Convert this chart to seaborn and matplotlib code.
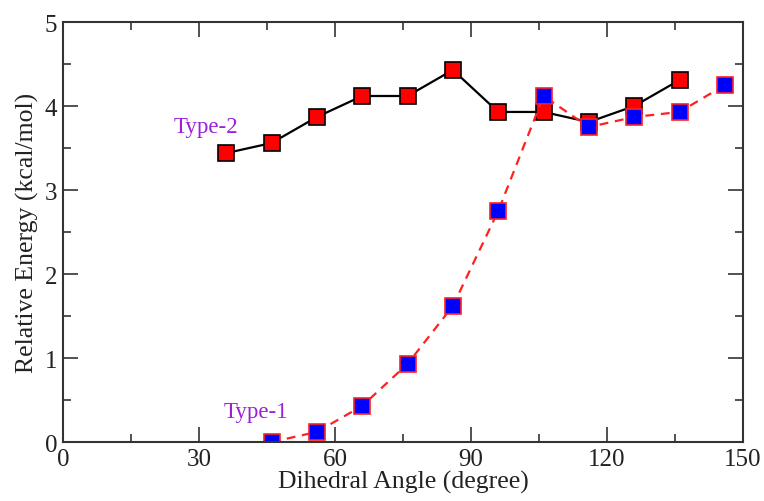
import numpy as np
import pandas as pd
import matplotlib
matplotlib.use("Agg")
import matplotlib.pyplot as plt
import seaborn as sns
from matplotlib.ticker import MultipleLocator

type2_angle = [36, 46, 56, 66, 76, 86, 96, 106, 116, 126, 136]
type2_energy = [3.44, 3.56, 3.87, 4.12, 4.12, 4.43, 3.93, 3.93, 3.81, 4.00, 4.31]

type1_angle = [46, 56, 66, 76, 86, 96, 106, 116, 126, 136, 146]
type1_energy = [0.00, 0.12, 0.43, 0.93, 1.62, 2.75, 4.12, 3.75, 3.87, 3.93, 4.25]

sns.set_style("ticks")
plt.rcParams["font.family"] = ["Liberation Serif", "DejaVu Serif"]

fig = plt.figure(figsize=(7.64, 5.02), dpi=100)
ax = fig.add_axes([0.0825, 0.1175, 0.89, 0.8365])

df2 = pd.DataFrame({"angle": type2_angle, "energy": type2_energy})
df1 = pd.DataFrame({"angle": type1_angle, "energy": type1_energy})

sns.lineplot(data=df2, x="angle", y="energy", ax=ax, color="black", lw=1.6,
             marker="s", markersize=11, markerfacecolor="#ff0000",
             markeredgecolor="black", markeredgewidth=1.2)
sns.lineplot(data=df1, x="angle", y="energy", ax=ax, color="#ff2020", lw=1.6,
             linestyle=(0, (4, 3)), marker="s", markersize=11,
             markerfacecolor="#0000ff", markeredgecolor="#ff2020",
             markeredgewidth=1.2)

ax.text(31.5, 3.76, "Type-2", color="#9b20d8", fontsize=16.5, ha="center", va="center")
ax.text(42.5, 0.36, "Type-1", color="#9b20d8", fontsize=16.5, ha="center", va="center")

ax.set_xlim(0, 150)
ax.set_ylim(0, 5)
ax.xaxis.set_major_locator(MultipleLocator(30))
ax.xaxis.set_minor_locator(MultipleLocator(15))
ax.yaxis.set_major_locator(MultipleLocator(1))
ax.yaxis.set_minor_locator(MultipleLocator(0.5))
ax.tick_params(which="both", direction="in", top=True, right=True,
               labelsize=18, width=1.2, color="#333333", labelcolor="#222222")
ax.tick_params(which="major", length=11, pad=4)
ax.tick_params(which="minor", length=5.5)
for s in ax.spines.values():
    s.set_linewidth(1.5)
    s.set_color("#333333")

ax.set_xlabel("Dihedral Angle (degree)", fontsize=18.5, labelpad=0, color="#222222")
ax.set_ylabel("Relative Energy (kcal/mol)", fontsize=18.5, labelpad=4, color="#222222")

fig.savefig("out.png", dpi=100)
